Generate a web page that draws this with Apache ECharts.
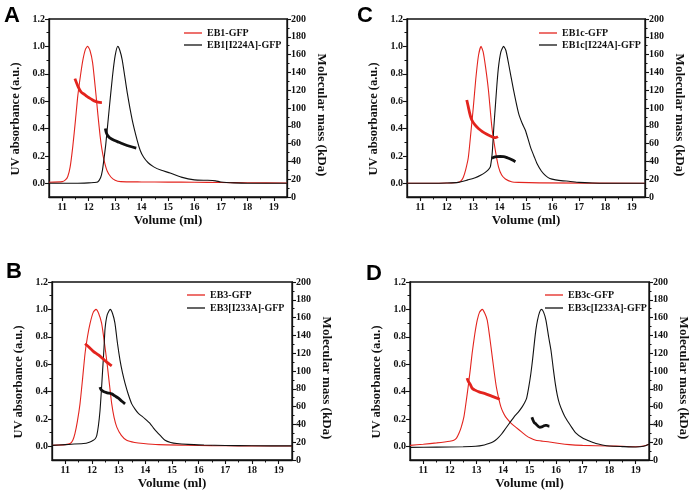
<!DOCTYPE html>
<html>
<head>
<meta charset="utf-8">
<script src="https://cdn.jsdelivr.net/npm/echarts@6/dist/echarts.min.js"></script>
<style>
html,body{margin:0;padding:0;background:#fff;}
#chart{width:693px;height:497px;}
</style>
</head>
<body>
<div id="chart"></div>
<script>
// ---------- tick labels ----------
const xTicks = [11, 12, 13, 14, 15, 16, 17, 18, 19];
const xMinorTicks = [11.5, 12.5, 13.5, 14.5, 15.5, 16.5, 17.5, 18.5];
const uvTicks = [0, 0.2, 0.4, 0.6, 0.8, 1.0, 1.2];
const uvMinorTicks = [0.1, 0.3, 0.5, 0.7, 0.9, 1.1];
const panelLetters = ['A', 'C', 'B', 'D'];

// ---------- legend names ----------
const namesA = ['EB1-GFP', 'EB1[I224A]-GFP'];
const namesC = ['EB1c-GFP', 'EB1c[I224A]-GFP'];
const namesB = ['EB3-GFP', 'EB3[I233A]-GFP'];
const namesD = ['EB3c-GFP', 'EB3c[I233A]-GFP'];

// ---------- Panel A: [volume ml, UV a.u.] / [volume ml, kDa] ----------
const uvA_red = [[10.5,0.008],[11.0,0.012],[11.12,0.025],[11.21,0.05],[11.3,0.12],[11.4,0.27],[11.5,0.46],[11.59,0.64],[11.7,0.8],[11.78,0.9],[11.88,0.98],[11.96,1.0],[12.05,0.97],[12.15,0.88],[12.27,0.66],[12.35,0.5],[12.43,0.35],[12.5,0.25],[12.58,0.17],[12.7,0.09],[12.84,0.046],[13.0,0.022],[13.21,0.012],[14,0.01],[15,0.009],[16,0.008],[17,0.006],[18,0.004],[19.5,0.002]];
const uvA_black = [[10.5,0],[11.5,0],[12.0,0.003],[12.2,0.006],[12.34,0.01],[12.45,0.04],[12.52,0.095],[12.58,0.18],[12.65,0.29],[12.77,0.53],[12.9,0.78],[13.0,0.93],[13.1,1.0],[13.18,0.97],[13.27,0.9],[13.46,0.66],[13.65,0.46],[13.84,0.31],[13.95,0.24],[14.08,0.19],[14.25,0.15],[14.46,0.12],[14.75,0.095],[15.08,0.075],[15.5,0.045],[16.0,0.025],[16.5,0.022],[16.8,0.018],[17.0,0.01],[17.5,0.003],[18,0],[19.5,0]];
const massA_red = [[11.48,133],[11.6,124],[11.71,118],[11.85,115],[11.96,112.5],[12.1,110],[12.21,108],[12.35,106.5],[12.5,106]];
const massA_black = [[12.63,77],[12.67,72],[12.72,69],[12.8,66.5],[12.96,63.8],[13.15,61.5],[13.33,59.3],[13.55,57],[13.8,55]];

// ---------- Panel C ----------
const uvC_red = [[10.5,0],[11.5,0],[12.0,0.002],[12.3,0.004],[12.44,0.007],[12.55,0.02],[12.63,0.044],[12.72,0.1],[12.82,0.19],[12.92,0.38],[13.01,0.56],[13.1,0.76],[13.2,0.93],[13.3,1.0],[13.38,0.96],[13.47,0.85],[13.58,0.68],[13.71,0.41],[13.84,0.24],[13.96,0.12],[14.08,0.06],[14.22,0.032],[14.45,0.012],[14.72,0.007],[15.5,0.003],[19.5,0]];
const uvC_black = [[10.5,0],[11.5,0],[12.0,0.002],[12.44,0.007],[12.8,0.025],[13.08,0.04],[13.3,0.06],[13.46,0.08],[13.58,0.1],[13.65,0.12],[13.7,0.18],[13.73,0.24],[13.78,0.4],[13.84,0.56],[13.9,0.72],[13.96,0.85],[14.05,0.96],[14.15,1.0],[14.24,0.97],[14.34,0.875],[14.53,0.68],[14.72,0.51],[14.85,0.44],[14.98,0.386],[15.17,0.264],[15.3,0.2],[15.42,0.142],[15.58,0.09],[15.74,0.056],[15.9,0.035],[16.12,0.025],[16.4,0.018],[16.62,0.015],[17.0,0.007],[17.5,0.002],[18,0],[19.5,0]];
const massC_red = [[12.76,109],[12.82,101],[12.88,93],[12.95,86.5],[13.07,81],[13.2,77],[13.35,73.5],[13.52,70.4],[13.65,68.5],[13.77,67],[13.86,66.8],[13.94,67.8]];
const massC_black = [[13.71,43.5],[13.8,44.8],[13.9,45.3],[14.02,45.5],[14.15,45.3],[14.25,44.6],[14.34,43.5],[14.47,41.8],[14.6,39.7]];

// ---------- Panel B ----------
const uvB_red = [[10.5,0.007],[11.0,0.012],[11.18,0.02],[11.28,0.045],[11.36,0.093],[11.45,0.18],[11.55,0.31],[11.65,0.5],[11.74,0.68],[11.83,0.8],[11.93,0.9],[12.05,0.98],[12.15,1.0],[12.25,0.97],[12.36,0.9],[12.45,0.78],[12.55,0.63],[12.65,0.46],[12.74,0.31],[12.83,0.21],[12.93,0.14],[13.1,0.08],[13.3,0.044],[13.6,0.028],[13.93,0.02],[14.5,0.012],[15.5,0.008],[16.5,0.005],[17.5,0.003],[19.5,0.002]];
const uvB_black = [[10.5,0.007],[11.0,0.012],[11.68,0.02],[11.9,0.03],[12.05,0.044],[12.12,0.055],[12.18,0.08],[12.24,0.15],[12.3,0.26],[12.35,0.4],[12.4,0.56],[12.45,0.72],[12.49,0.86],[12.57,0.96],[12.68,1.0],[12.77,0.97],[12.86,0.9],[12.95,0.76],[13.05,0.63],[13.14,0.54],[13.24,0.46],[13.36,0.38],[13.49,0.31],[13.62,0.27],[13.74,0.24],[13.87,0.22],[13.99,0.2],[14.18,0.166],[14.3,0.135],[14.43,0.105],[14.58,0.075],[14.74,0.044],[14.95,0.028],[15.18,0.02],[15.6,0.014],[16.2,0.01],[17,0.006],[18,0.004],[19.5,0.003]];
const massB_red = [[11.74,130.6],[11.9,126.5],[12.05,122],[12.24,118],[12.4,114],[12.55,110],[12.74,105.8]];
const massB_black = [[12.3,81.8],[12.34,79],[12.43,76.9],[12.58,75.5],[12.74,74.3],[12.86,72],[12.99,69.4],[13.12,66],[13.24,63]];

// ---------- Panel D ----------
const uvD_red = [[10.5,0.007],[11.0,0.015],[11.5,0.025],[12.0,0.037],[12.15,0.044],[12.25,0.06],[12.34,0.093],[12.43,0.14],[12.53,0.215],[12.61,0.32],[12.69,0.435],[12.77,0.56],[12.84,0.68],[12.94,0.82],[13.03,0.92],[13.12,0.98],[13.22,1.0],[13.32,0.97],[13.41,0.92],[13.5,0.8],[13.6,0.65],[13.68,0.53],[13.75,0.435],[13.83,0.36],[13.92,0.29],[14.0,0.25],[14.1,0.215],[14.3,0.17],[14.48,0.14],[14.7,0.105],[14.86,0.08],[15.05,0.058],[15.24,0.044],[15.5,0.037],[15.75,0.032],[16.13,0.02],[16.5,0.012],[17,0.007],[18,0.002],[18.5,0],[19.0,-0.003],[19.3,0.002],[19.5,0.015]];
const uvD_black = [[10.5,-0.008],[11.5,-0.006],[12.5,-0.003],[12.97,0],[13.3,0.01],[13.47,0.02],[13.65,0.035],[13.79,0.056],[13.95,0.09],[14.1,0.13],[14.25,0.17],[14.42,0.215],[14.58,0.25],[14.73,0.29],[14.82,0.32],[14.89,0.35],[14.97,0.43],[15.05,0.53],[15.12,0.64],[15.18,0.75],[15.24,0.85],[15.3,0.92],[15.38,0.98],[15.45,1.0],[15.53,0.98],[15.62,0.92],[15.72,0.8],[15.81,0.7],[15.9,0.56],[15.97,0.46],[16.05,0.37],[16.13,0.31],[16.25,0.25],[16.35,0.21],[16.55,0.15],[16.73,0.1],[17.0,0.06],[17.23,0.04],[17.5,0.02],[17.74,0.01],[18.0,0.002],[18.5,-0.002],[19.0,-0.005],[19.3,0],[19.5,0.015]];
const massD_red = [[12.65,92],[12.7,88],[12.78,84.4],[12.84,80.6],[12.95,78.5],[13.1,76.5],[13.35,74.3],[13.6,71.5],[13.88,68.3]];
const massD_black = [[15.09,48],[15.13,45],[15.18,42],[15.24,40.5],[15.32,38],[15.39,36.8],[15.46,37.2],[15.53,38.3],[15.6,39],[15.65,39],[15.7,38.2],[15.75,38]];

// ---------- layout / style ----------
const RED = '#e3241e';
const BLACK = '#111111';
const SERIF = '"Liberation Serif", "Times New Roman", serif';
const gridBoxes = [
  {left: 49, top: 19, width: 238, height: 178},   // A
  {left: 407, top: 19, width: 238, height: 178},  // C
  {left: 52, top: 282, width: 240, height: 178},  // B
  {left: 410, top: 282, width: 239, height: 178}  // D
];
const legendPos = [
  {left: 184, top: 28, gap: 2},
  {left: 539, top: 28, gap: 2},
  {left: 187, top: 290, gap: 3},
  {left: 545, top: 290, gap: 3}
];
const letterPos = [[4, 5], [357, 5], [6, 261], [366, 263]];

const panels = [
  {names: namesA, uvRed: uvA_red, uvBlack: uvA_black, mRed: massA_red, mBlack: massA_black},
  {names: namesC, uvRed: uvC_red, uvBlack: uvC_black, mRed: massC_red, mBlack: massC_black},
  {names: namesB, uvRed: uvB_red, uvBlack: uvB_black, mRed: massB_red, mBlack: massB_black},
  {names: namesD, uvRed: uvD_red, uvBlack: uvD_black, mRed: massD_red, mBlack: massD_black}
];

const lbl = {fontFamily: SERIF, fontWeight: 'bold', fontSize: 10, color: BLACK};
const nameStyle = {fontFamily: SERIF, fontWeight: 'bold', fontSize: 13, color: BLACK};
const axLine = {show: true, onZero: false, lineStyle: {color: BLACK, width: 1.3}};

const grid = [], xAxis = [], yAxis = [], series = [], legend = [], graphic = [];

panels.forEach((p, i) => {
  grid.push(Object.assign({show: true, borderColor: BLACK, borderWidth: 1.3, backgroundColor: 'transparent'}, gridBoxes[i]));
  xAxis.push({
    gridIndex: i, type: 'value', min: 10.5, max: 19.5, position: 'bottom',
    axisLine: axLine,
    axisTick: {show: true, customValues: xTicks, length: 4, lineStyle: {color: BLACK, width: 1.1}},
    axisLabel: {customValues: xTicks, formatter: v => String(v), margin: 5, ...lbl},
    splitLine: {show: false},
    name: 'Volume (ml)', nameLocation: 'middle', nameGap: 17, nameTextStyle: nameStyle
  });
  xAxis.push({
    gridIndex: i, type: 'value', min: 10.5, max: 19.5, position: 'bottom',
    axisLine: {show: false, onZero: false},
    axisTick: {show: true, customValues: xMinorTicks, length: 2.5, lineStyle: {color: BLACK, width: 1}},
    axisLabel: {show: false}, splitLine: {show: false}
  });
  yAxis.push({
    gridIndex: i, type: 'value', min: -0.1, max: 1.2, position: 'left',
    axisLine: axLine,
    axisTick: {show: true, customValues: uvTicks, length: 4, lineStyle: {color: BLACK, width: 1.1}},
    axisLabel: {customValues: uvTicks, formatter: v => v.toFixed(1), margin: 4, ...lbl},
    splitLine: {show: false},
    name: 'UV absorbance (a.u.)', nameLocation: 'middle', nameGap: 27, nameRotate: 90,
    nameTextStyle: Object.assign({}, nameStyle, {fontSize: 12.5, padding: [0, 22, 0, 0]})
  });
  yAxis.push({
    gridIndex: i, type: 'value', min: -0.1, max: 1.2, position: 'left',
    axisLine: {show: false, onZero: false},
    axisTick: {show: true, customValues: uvMinorTicks, length: 2.5, lineStyle: {color: BLACK, width: 1}},
    axisLabel: {show: false}, splitLine: {show: false}
  });
  yAxis.push({
    gridIndex: i, type: 'value', min: 0, max: 200, interval: 20, position: 'right',
    axisLine: axLine,
    axisTick: {show: true, length: 4, lineStyle: {color: BLACK, width: 1.1}},
    minorTick: {show: true, splitNumber: 2, length: 2.5, lineStyle: {color: BLACK, width: 1}},
    axisLabel: {formatter: v => String(v), margin: 4, ...lbl},
    splitLine: {show: false},
    name: 'Molecular mass (kDa)', nameLocation: 'middle', nameGap: 28, nameRotate: -90,
    nameTextStyle: Object.assign({}, nameStyle, {padding: [0, 0, 0, 14]})
  });

  const xi = i * 2, yi = i * 3;
  series.push({name: p.names[0], type: 'line', xAxisIndex: xi, yAxisIndex: yi, data: p.uvRed,
    symbol: 'none', smooth: 0.2, lineStyle: {color: RED, width: 1.1}, itemStyle: {color: RED}, z: 2});
  series.push({name: p.names[1], type: 'line', xAxisIndex: xi, yAxisIndex: yi, data: p.uvBlack,
    symbol: 'none', smooth: 0.2, lineStyle: {color: BLACK, width: 1.1}, itemStyle: {color: BLACK}, z: 2});
  series.push({name: p.names[0] + ' mass', type: 'line', xAxisIndex: xi, yAxisIndex: yi + 2, data: p.mRed,
    symbol: 'none', smooth: 0.3, lineStyle: {color: RED, width: 2.8}, itemStyle: {color: RED}, z: 3});
  series.push({name: p.names[1] + ' mass', type: 'line', xAxisIndex: xi, yAxisIndex: yi + 2, data: p.mBlack,
    symbol: 'none', smooth: 0.3, lineStyle: {color: BLACK, width: 2.8}, itemStyle: {color: BLACK}, z: 3});

  legend.push({
    data: p.names, orient: 'vertical', left: legendPos[i].left, top: legendPos[i].top,
    icon: 'rect', itemWidth: 18, itemHeight: 1.3, itemGap: legendPos[i].gap, padding: 0, selectedMode: false,
    textStyle: {fontFamily: SERIF, fontWeight: 'bold', fontSize: 10, color: BLACK}
  });

  graphic.push({
    type: 'text', left: letterPos[i][0], top: letterPos[i][1],
    style: {text: panelLetters[i], font: 'bold 22px "Liberation Sans", Arial, sans-serif', fill: '#000'}
  });
});

const chart = echarts.init(document.getElementById('chart'), null, {renderer: 'canvas'});
chart.setOption({
  animation: false,
  backgroundColor: '#fff',
  grid, xAxis, yAxis, series, legend, graphic
});
</script>
</body>
</html>
